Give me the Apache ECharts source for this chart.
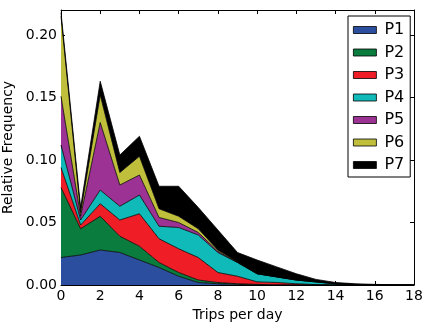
<!DOCTYPE html>
<html>
<head>
<meta charset="utf-8">
<script src="https://cdn.jsdelivr.net/npm/echarts@6/dist/echarts.min.js"></script>
<style>html,body{margin:0;padding:0;background:#fff;}#c{width:422px;height:323px;}</style>
</head>
<body>
<div id="c"></div>
<script>
const xs = [0,1,2,3,4,5,6,7,8,9,10,11,12,13,14,15,16,17,18];
const P1 = [0.022,0.024,0.028,0.026,0.020,0.014,0.007,0.002,0.001,0.0005,0,0,0,0,0,0,0,0,0];
const P2 = [0.056,0.021,0.027,0.013,0.011,0.004,0.003,0.002,0.001,0.0005,0.0005,0,0,0,0,0,0,0,0];
const P3 = [0.016,0.003,0.010,0.013,0.026,0.019,0.019,0.018,0.008,0.006,0.002,0.002,0.001,0.0003,0,0,0,0,0];
const P4 = [0.018,0.004,0.011,0.011,0.015,0.010,0.017,0.018,0.016,0.011,0.0065,0.0045,0.003,0.0022,0.001,0.0004,0,0,0];
const P5 = [0.039,0.003,0.054,0.017,0.016,0.007,0.004,0.002,0.001,0,0,0,0,0,0,0,0,0,0];
const P6 = [0.064,0.003,0.022,0.010,0.015,0.007,0.005,0.003,0.001,0.0005,0,0,0,0,0,0,0,0,0];
const P7 = [0.003,0.004,0.011,0.014,0.016,0.018,0.024,0.017,0.016,0.0075,0.011,0.008,0.005,0.002,0.001,0.0006,0.0005,0.0002,0];
const names = ['P1','P2','P3','P4','P5','P6','P7'];
const values = [P1,P2,P3,P4,P5,P6,P7];
const colors = ['#2c4e9f','#0a7c3e','#ee1d26','#10bab8','#9c3294','#bfbf3b','#000000'];
const yTicks = [0,0.05,0.10,0.15,0.20];

const font = 'DejaVu Sans';
const chart = echarts.init(document.getElementById('c'), null, {renderer:'canvas'});
const axisCommon = {
  axisLine:{show:true, onZero:false, lineStyle:{color:'#000', width:1}},
  splitLine:{show:false}
};
chart.setOption({
  animation:false,
  backgroundColor:'#fff',
  textStyle:{fontFamily:font},
  grid:{left:61, right:8, top:10, bottom:38, containLabel:false, outerBoundsMode:'none'},
  legend:{
    orient:'vertical', left:348, top:16,
    padding:[6,6,4,5],
    borderColor:'#000', borderWidth:1, backgroundColor:'#fff',
    itemWidth:23, itemHeight:7, itemGap:6.5,
    icon:'rect',
    textStyle:{fontFamily:font, fontSize:16, color:'#000', lineHeight:16, padding:[0,0,0,3]},
    data: names.map((n,i)=>({name:n, icon:'rect', itemStyle:{color:colors[i], borderColor:'#000', borderWidth:0.8}}))
  },
  xAxis:[{
    type:'category', data:xs, boundaryGap:false,
    ...axisCommon,
    axisTick:{show:true, inside:true, length:4, interval:1, lineStyle:{color:'#000'}},
    axisLabel:{interval:1, margin:4, fontSize:14, color:'#000', fontFamily:font},
    name:'Trips per day', nameLocation:'middle', nameGap:19,
    nameTextStyle:{fontSize:14, color:'#000', fontFamily:font}
  },{
    type:'category', data:xs, boundaryGap:false, position:'top',
    ...axisCommon,
    axisTick:{show:true, inside:true, length:4, interval:1, lineStyle:{color:'#000'}},
    axisLabel:{show:false}
  }],
  yAxis:[{
    type:'value', min:0, max:0.22, interval:0.05,
    ...axisCommon,
    axisTick:{show:true, inside:true, length:4, lineStyle:{color:'#000'}},
    axisLabel:{showMaxLabel:false, margin:4, fontSize:14, color:'#000', fontFamily:font,
      formatter:v=> yTicks.some(t=>Math.abs(t-v)<1e-9) ? v.toFixed(2) : ''},
    name:'Relative Frequency', nameLocation:'middle', nameGap:40,
    nameTextStyle:{fontSize:14, color:'#000', fontFamily:font}
  },{
    type:'value', min:0, max:0.22, interval:0.05, position:'right',
    ...axisCommon,
    axisTick:{show:true, inside:true, length:4, lineStyle:{color:'#000'}},
    axisLabel:{show:false}
  }],
  series: names.map((n,i)=>({
    name:n, type:'line', stack:'total', xAxisIndex:0, yAxisIndex:0,
    data: values[i], symbol:'none', smooth:false,
    itemStyle:{color:colors[i]},
    lineStyle:{color:'#000', width:0.8},
    areaStyle:{color:colors[i], opacity:1}
  }))
});
</script>
</body>
</html>
